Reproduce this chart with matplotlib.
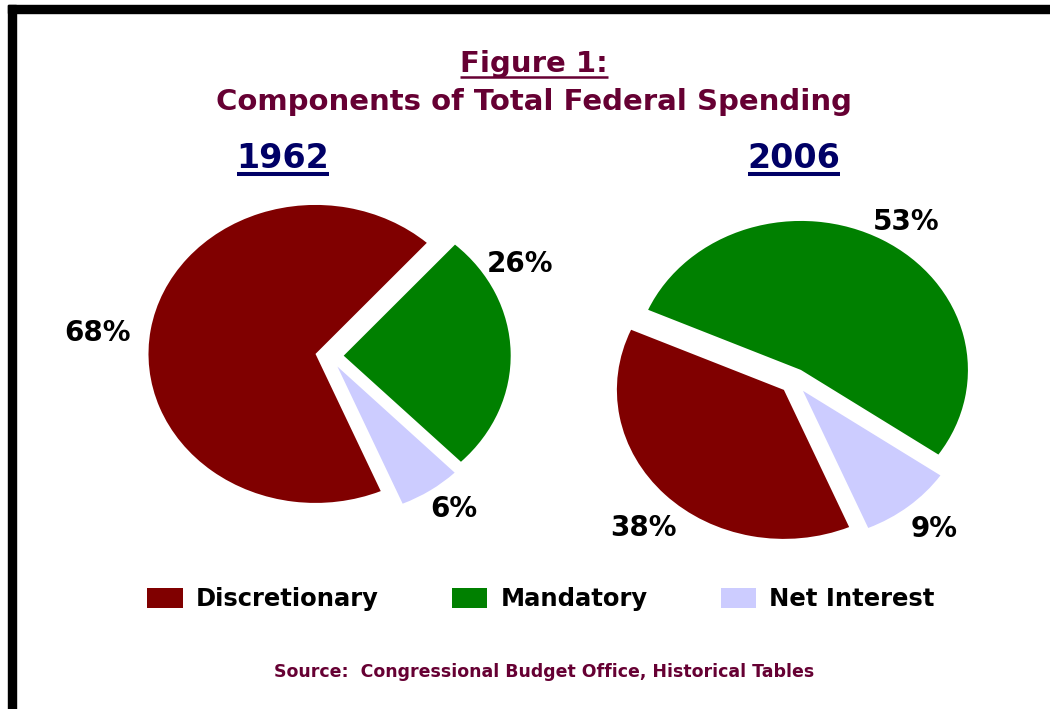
import numpy as np
import matplotlib.pyplot as plt
from matplotlib.patches import Patch, Rectangle
from matplotlib.lines import Line2D

plt.rcParams['font.family'] = ['DejaVu Sans']
plt.rcParams['font.weight'] = 'bold'

# spending shares, percent of total federal outlays
categories = ['Discretionary', 'Mandatory', 'Net Interest']
colors = ['#800000', '#008000', '#ccccff']
years = ['1962', '2006']
shares_1962 = [68, 26, 6]
shares_2006 = [38, 53, 9]

TITLE_COLOR = '#660033'
YEAR_COLOR = '#000066'

W, H = 1050, 709
fig = plt.figure(figsize=(W / 100, H / 100), dpi=100)


def fx(x):
    return x / W


def fy(y):
    # y measured in pixels from the top edge
    return 1 - y / H


def hline(x0, x1, y, color, lw):
    fig.add_artist(Line2D([fx(x0), fx(x1)], [fy(y), fy(y)], color=color, lw=lw,
                          solid_capstyle='butt', transform=fig.transFigure))


def underlined(x, y, s, size, color, gap, lw):
    t = fig.text(fx(x), fy(y), s, ha='center', va='baseline', fontsize=size,
                 color=color, fontweight='bold')
    fig.canvas.draw()
    bb = t.get_window_extent()
    hline(bb.x0, bb.x1, y + gap, color, lw)
    return t


# frame (top and left edges only)
fig.add_artist(Rectangle((fx(8), fy(13)), 1 - fx(8), 8 / H, color='black',
                         transform=fig.transFigure))
fig.add_artist(Rectangle((fx(8), 0), 8 / W, fy(5), color='black',
                         transform=fig.transFigure))

# titles
underlined(534, 72, 'Figure 1:', 21, TITLE_COLOR, 5, 1.8)
fig.text(fx(534), fy(110), 'Components of Total Federal Spending', ha='center',
         va='baseline', fontsize=21, color=TITLE_COLOR)

# pies: one data unit is RX by RY pixels, so the pies come out slightly flattened
RX, RY = 167, 149
pies = [
    (years[0], shares_1962, (329.5, 356), [1.40, 1.30, 1.27], [3, 27, 2]),
    (years[1], shares_2006, (794, 381), [1.34, 1.26, 1.30], [3, -3, 1]),
]

for year, shares, (cx, cy), dists, nudges in pies:
    w, h = 3 * RX, 3 * RY
    ax = fig.add_axes([fx(cx - w / 2), fy(cy + h / 2), w / W, h / H])
    wedges, _ = ax.pie(shares, colors=colors, startangle=293, counterclock=False,
                       explode=[0.085] * 3, radius=1,
                       wedgeprops=dict(linewidth=0))
    ax.set_aspect('auto')
    ax.set_xlim(-1.5, 1.5)
    ax.set_ylim(-1.5, 1.5)
    ax.axis('off')
    for wdg, val, d, nud in zip(wedges, shares, dists, nudges):
        ang = np.deg2rad((wdg.theta1 + wdg.theta2) / 2 + nud)
        ax.text(d * np.cos(ang), d * np.sin(ang), f'{val}%', ha='center',
                va='center', fontsize=20, fontweight='bold', color='black')
    underlined(283 if year == '1962' else 794, 168, year, 24, YEAR_COLOR, 6, 2.9)

# legend
handles = [Patch(facecolor=c, edgecolor='none') for c in colors]
fig.legend(handles, categories, loc='center', bbox_to_anchor=(fx(541), fy(599)),
           ncol=3, frameon=False, fontsize=17.5, handlelength=1.45,
           handleheight=0.9, handletextpad=0.55, columnspacing=3.0)

fig.text(fx(544), fy(677), 'Source:  Congressional Budget Office, Historical Tables',
         ha='center', va='baseline', fontsize=12.5, color=TITLE_COLOR)

fig.savefig('out.png', dpi=100)
